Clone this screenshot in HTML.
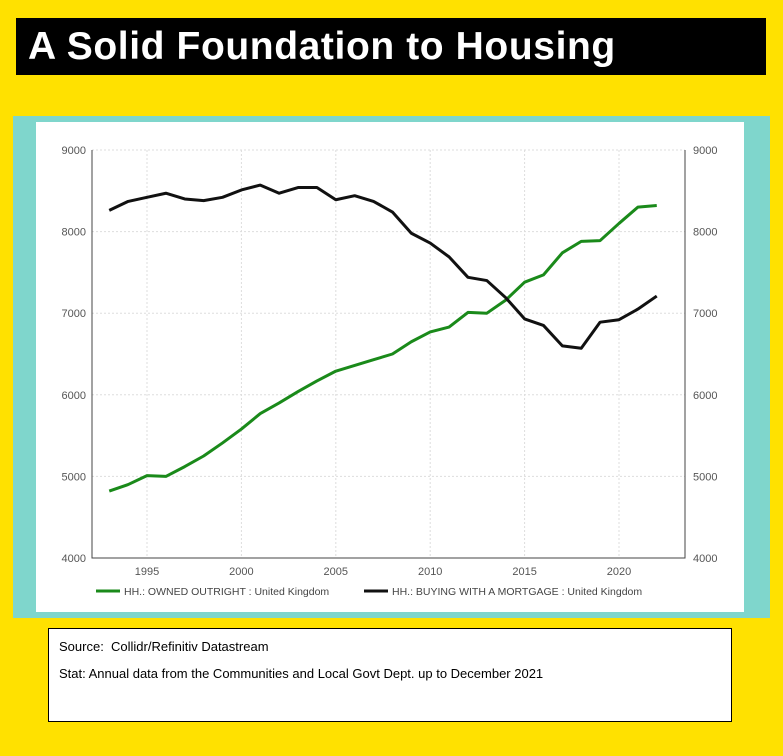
<!DOCTYPE html>
<html><head><meta charset="utf-8"><style>
body{margin:0;width:783px;height:756px;background:#FFE100;position:relative;overflow:hidden;font-family:"Liberation Sans",sans-serif}
#title{position:absolute;left:16px;top:18px;width:750px;height:57px;background:#000;color:#fff;font-weight:bold;font-size:39px;letter-spacing:0.6px;line-height:57px;padding-left:12px;box-sizing:border-box}
#panel{position:absolute;left:13px;top:116px;width:757px;height:502px;background:#7fd6cc}
#inner{position:absolute;left:36px;top:122px;width:708px;height:490px;background:#fff}
#src{position:absolute;left:48px;top:628px;width:684px;height:94px;background:#fff;border:1px solid #000;box-sizing:border-box;font-size:13px;padding:10px 0 0 10px}
#src div{margin-bottom:12px}
svg{position:absolute;left:0;top:0}
</style></head><body>
<div id="title">A Solid Foundation to Housing</div>
<div id="panel"></div>
<div id="inner"></div>
<svg id="chart" width="783" height="756"></svg>
<div id="src">
<div>Source:&nbsp; Collidr/Refinitiv Datastream</div>
<div>Stat: Annual data from the Communities and Local Govt Dept. up to December 2021</div>
</div>
<script>
const years=[1993,1994,1995,1996,1997,1998,1999,2000,2001,2002,2003,2004,2005,2006,2007,2008,2009,2010,2011,2012,2013,2014,2015,2016,2017,2018,2019,2020,2021,2022];
const ownedOutright=[4820,4900,5010,5000,5120,5250,5410,5580,5770,5900,6040,6170,6290,6360,6430,6500,6650,6770,6830,7010,7000,7160,7380,7470,7740,7880,7890,8100,8300,8320];
const buyingMortgage=[8260,8370,8420,8470,8400,8380,8420,8510,8570,8470,8540,8540,8390,8440,8370,8240,7980,7860,7690,7440,7400,7190,6930,6850,6600,6570,6890,6920,7050,7210];
const yTicks=[4000,5000,6000,7000,8000,9000];
const xTicks=[1995,2000,2005,2010,2015,2020];
const NS="http://www.w3.org/2000/svg";
const svg=document.getElementById('chart');
const L=92,R=685,T=150,B=558;
const x=v=>147+(v-1995)*(619-147)/25;
const y=v=>B-(v-4000)*(B-T)/5000;
function mk(t,a){const e=document.createElementNS(NS,t);for(const k in a)e.setAttribute(k,a[k]);svg.appendChild(e);return e;}
for(const t of yTicks){
 const g=mk('line',{x1:L,x2:R,y1:y(t),y2:y(t),stroke:'#ddd','stroke-dasharray':'2,2'});
 
 
 const a=mk('text',{x:L-6,y:y(t)+4,'text-anchor':'end','font-size':11,fill:'#555'});a.textContent=t;
 
 
 const b=mk('text',{x:R+8,y:y(t)+4,'font-size':11,fill:'#555'});b.textContent=t;
 
 
}
for(const t of xTicks){
 const g=mk('line',{x1:x(t),x2:x(t),y1:T,y2:B,stroke:'#ddd','stroke-dasharray':'2,2'});
 
 
 const a=mk('text',{x:x(t),y:B+17,'text-anchor':'middle','font-size':11,fill:'#555'});a.textContent=t;
 
 
}
const ax=mk('path',{d:`M${L},${T}V${B}H${R}V${T}`,fill:'none',stroke:'#444','stroke-width':1});


function line(arr,col,name){
 const p=mk('polyline',{points:arr.map((v,i)=>x(years[i])+','+y(v)).join(' '),fill:'none',stroke:col,'stroke-width':3,'stroke-linejoin':'round'});
 
 
}
line(ownedOutright,'#1a8a1a','owned-outright-line');
line(buyingMortgage,'#111','buying-mortgage-line');
const l1=mk('line',{x1:96,x2:120,y1:591,y2:591,stroke:'#1a8a1a','stroke-width':3});


const t1=mk('text',{x:124,y:595,'font-size':10.5,fill:'#444'});t1.textContent='HH.: OWNED OUTRIGHT : United Kingdom';


const l2=mk('line',{x1:364,x2:388,y1:591,y2:591,stroke:'#111','stroke-width':3});


const t2=mk('text',{x:392,y:595,'font-size':10.5,fill:'#444'});t2.textContent='HH.: BUYING WITH A MORTGAGE : United Kingdom';


</script>
</body></html>
